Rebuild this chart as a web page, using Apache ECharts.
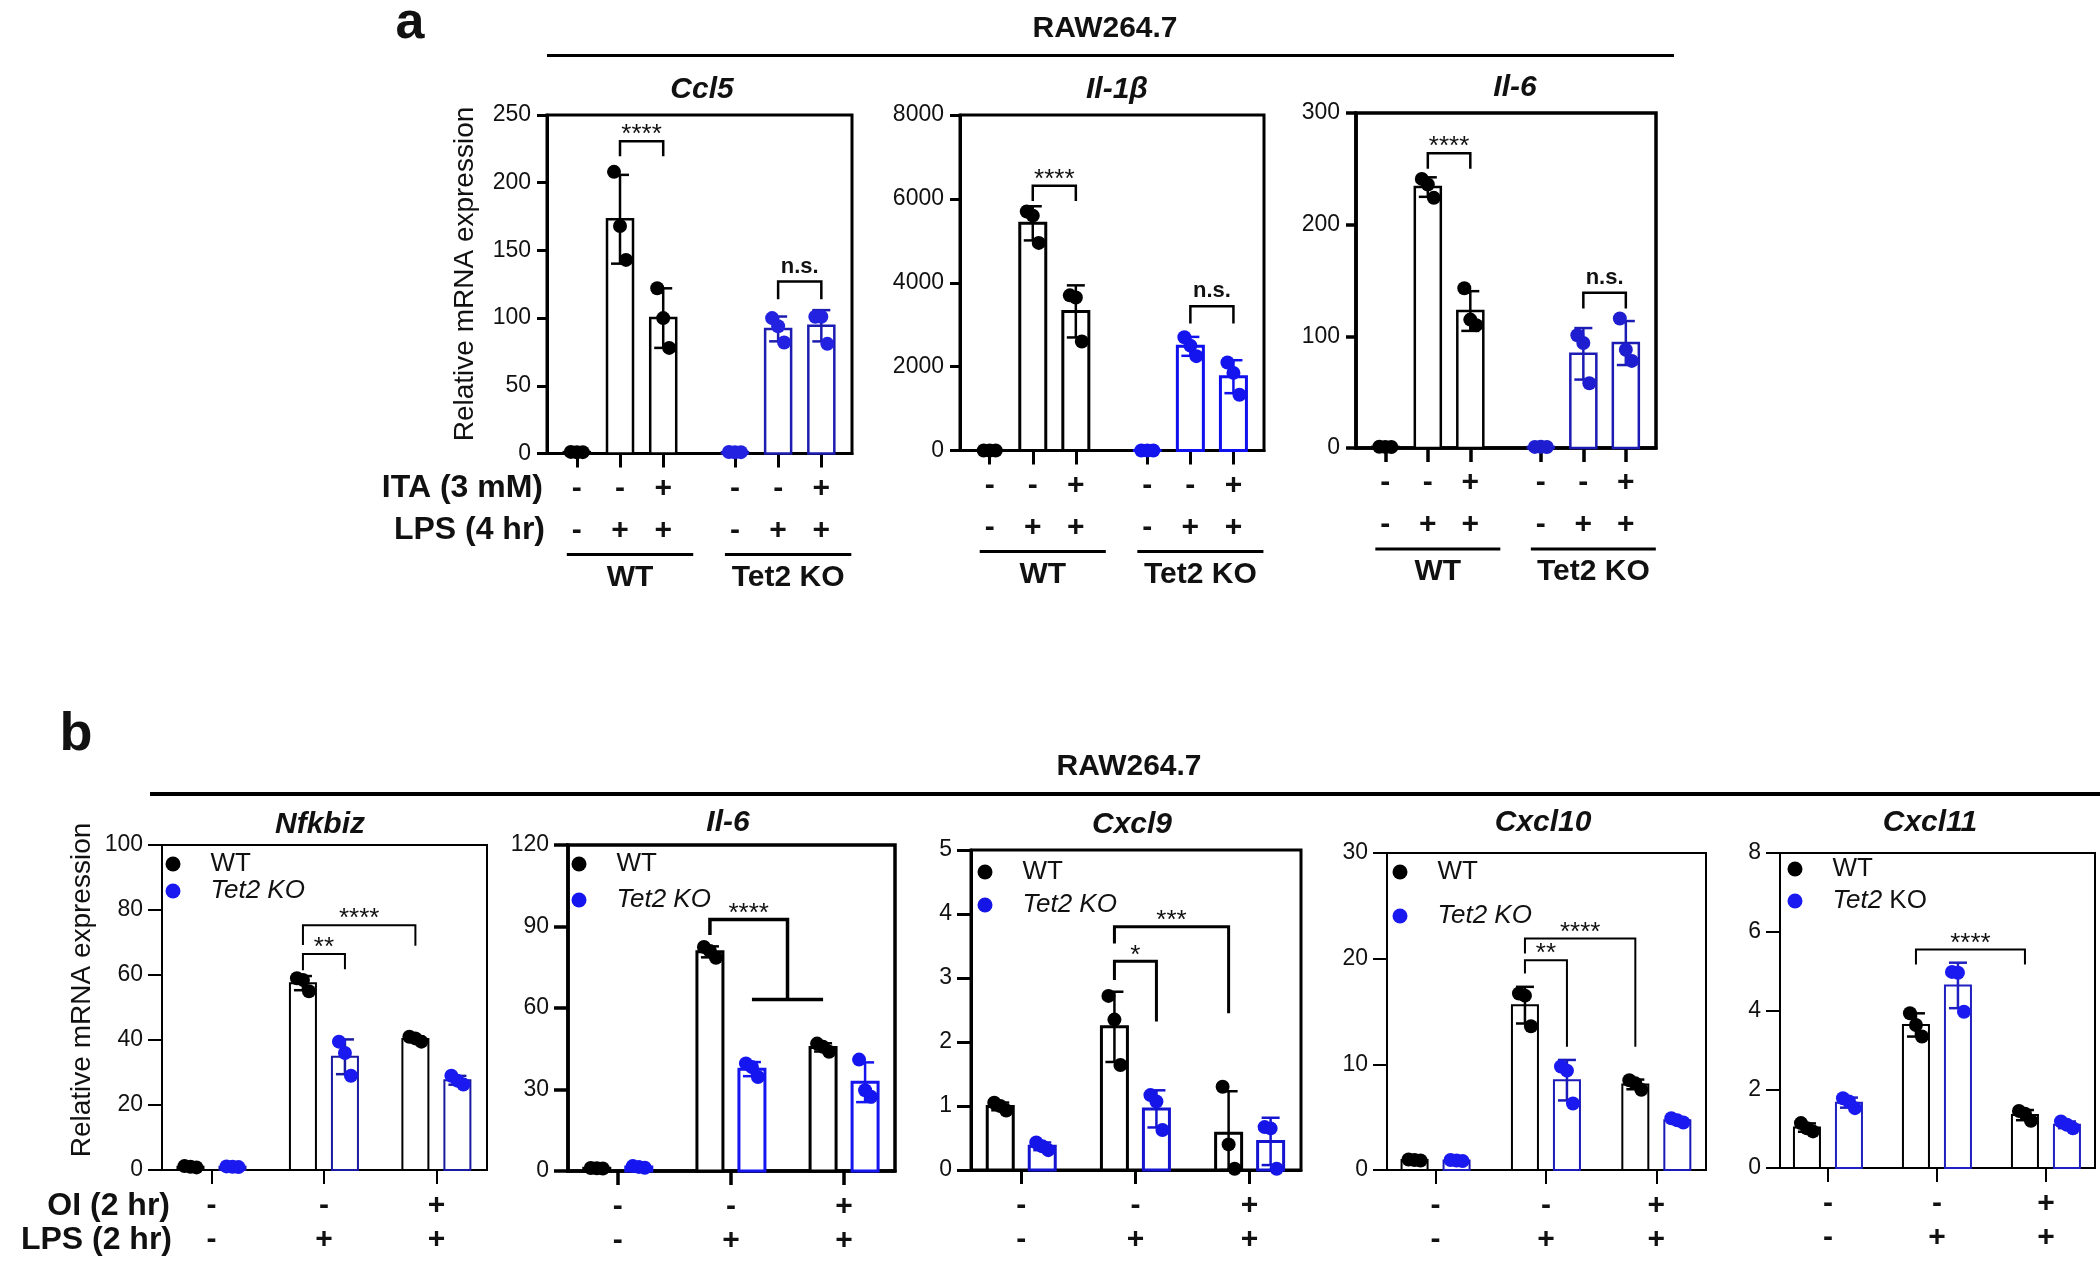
<!DOCTYPE html>
<html><head><meta charset="utf-8">
<script src="https://cdn.jsdelivr.net/npm/echarts@6/dist/echarts.min.js"></script>
<style>html,body{margin:0;padding:0;background:#fff}#c{width:2100px;height:1280px}</style>
</head><body><div id="c"></div>
<script>
// ================= DATA =================
// Panel a (RAW264.7). Order: WT ctrl, WT LPS, WT ITA+LPS, KO ctrl, KO LPS, KO ITA+LPS
const aGenotype = ['WT', 'WT', 'WT', 'Tet2 KO', 'Tet2 KO', 'Tet2 KO'];
const aRowITA = ['-', '-', '+', '-', '-', '+'];
const aRowLPS = ['-', '+', '+', '-', '+', '+'];
const ccl5Values = [[1.2, 0.9, 1.0], [208, 168, 143], [122, 100, 78], [1.1, 0.9, 1.0], [100, 94, 82], [101, 101, 81]];
const il1bValues = [[1.2, 0.9, 1.0], [5700, 5600, 4950], [3700, 3650, 2600], [1.1, 1.0, 0.9], [2700, 2500, 2250], [2100, 1850, 1330]];
const il6aValues = [[1.1, 1.0, 0.9], [241, 236, 224], [143, 115, 110], [1.0, 1.1, 0.9], [101, 94, 58], [116, 88, 78]];
const ccl5Ticks = [0, 50, 100, 150, 200, 250];
const il1bTicks = [0, 2000, 4000, 6000, 8000];
const il6aTicks = [0, 100, 200, 300];
// significance: [leftBar, rightBar, bracketY, leftLegEnd, rightLegEnd, label, (T-bracket from, to)]
const ccl5Sig = [[1, 2, 230.6, 219.6, 219.6, '****'], [4, 5, 127, 114, 114, 'n.s.']];
const il1bSig = [[1, 2, 6314, 5950, 5950, '****'], [4, 5, 3440, 3030, 3030, 'n.s.']];
const il6aSig = [[1, 2, 264, 250, 250, '****'], [4, 5, 139, 125, 125, 'n.s.']];

// Panel b (RAW264.7). Groups: ctrl, LPS, OI+LPS ; bar index = group*2 + (KO ? 1 : 0)
const bRowOI = ['-', '-', '+'];
const bRowLPS = ['-', '+', '+'];
const nfkbizWT = [[1.2, 1.0, 0.8], [59, 58.5, 55], [41, 40.5, 39.5]];
const nfkbizKO = [[1.1, 1.0, 0.9], [39.5, 36, 29], [29, 27.5, 26.3]];
const il6bWT = [[1.1, 1.0, 0.9], [82.5, 81, 78.5], [46.9, 45.7, 43.9]];
const il6bKO = [[1.8, 1.5, 1.2], [39.6, 38.3, 34.6], [41, 29.7, 27.3]];
const cxcl9WT = [[1.05, 1.0, 0.93], [2.72, 2.35, 1.64], [1.30, 0.40, 0.02]];
const cxcl9KO = [[0.43, 0.37, 0.31], [1.17, 1.07, 0.625], [0.67, 0.65, 0.02]];
const cxcl10WT = [[1.0, 0.95, 0.9], [16.7, 16.5, 13.6], [8.5, 8.2, 7.6]];
const cxcl10KO = [[0.95, 0.9, 0.85], [9.8, 9.4, 6.3], [4.9, 4.7, 4.5]];
const cxcl11WT = [[1.14, 1.01, 0.93], [3.93, 3.63, 3.34], [1.45, 1.38, 1.2]];
const cxcl11KO = [[1.77, 1.69, 1.52], [4.98, 4.96, 3.97], [1.18, 1.1, 1.01]];
const nfkbizTicks = [0, 20, 40, 60, 80, 100];
const il6bTicks = [0, 30, 60, 90, 120];
const cxcl9Ticks = [0, 1, 2, 3, 4, 5];
const cxcl10Ticks = [0, 10, 20, 30];
const cxcl11Ticks = [0, 2, 4, 6, 8];
const nfkbizSig = [[2, 3, 66.5, 61.5, 61.8, '**'], [2, 4, 75.3, 69.2, 69, '****']];
const il6bSig = [[2, null, 92.6, 86.9, 63.1, '****', 3, 4]];
const cxcl9Sig = [[2, 3, 3.26, 2.97, 2.32, '*'], [2, 4, 3.80, 3.54, 2.45, '***']];
const cxcl10Sig = [[2, 3, 19.85, 18.6, 11.66, '**'], [2, 4, 21.9, 20.5, 11.66, '****']];
const cxcl11Sig = [[2, 4, 5.55, 5.17, 5.17, '****']];

// ================= LAYOUT / STYLE =================
const FONT = '"Liberation Sans", Arial, sans-serif';
const interleave = (wt, ko) => wt.flatMap((w, g) => [w, ko[g]]);

const panels = [
  {kind: 'a', title: 'Ccl5', vals: ccl5Values, ticks: ccl5Ticks, sig: ccl5Sig,
   grid: {left: 547, top: 115, width: 305, height: 338.5}, titleX: 702, titleY: 90,
   koBar: '#1c1cb0', koDot: '#2222e0', boxLW: 3, barLW: 2.5, sigLW: 2.5},
  {kind: 'a', title: 'Il-1β', vals: il1bValues, ticks: il1bTicks, sig: il1bSig,
   grid: {left: 960, top: 115, width: 304, height: 335.5}, titleX: 1117, titleY: 90,
   koBar: '#1010ee', koDot: '#1414ee', boxLW: 3, barLW: 3, sigLW: 2.5},
  {kind: 'a', title: 'Il-6', vals: il6aValues, ticks: il6aTicks, sig: il6aSig,
   grid: {left: 1356, top: 113, width: 300, height: 335}, titleX: 1515, titleY: 88,
   koBar: '#1c1cb4', koDot: '#1e1ed0', boxLW: 3.5, barLW: 2.5, sigLW: 2.5},
  {kind: 'b', title: 'Nfkbiz', vals: interleave(nfkbizWT, nfkbizKO), ticks: nfkbizTicks, sig: nfkbizSig,
   grid: {left: 162, top: 845, width: 325, height: 325}, titleX: 320, titleY: 825,
   koBar: '#1a1aa0', koDot: '#1a1af0', boxLW: 2, barLW: 2, sigLW: 2, legend: {x: 173, y1: 863, y2: 888}},
  {kind: 'b', title: 'Il-6', vals: interleave(il6bWT, il6bKO), ticks: il6bTicks, sig: il6bSig,
   grid: {left: 568, top: 845, width: 327, height: 326}, titleX: 728, titleY: 823,
   koBar: '#1515f0', koDot: '#1515f0', boxLW: 3.5, barLW: 3, sigLW: 3.5, legend: {x: 579, y1: 863, y2: 897}},
  {kind: 'b', title: 'Cxcl9', vals: interleave(cxcl9WT, cxcl9KO), ticks: cxcl9Ticks, sig: cxcl9Sig,
   grid: {left: 971, top: 850, width: 330, height: 320}, titleX: 1132, titleY: 825,
   koBar: '#1515d0', koDot: '#1515e8', boxLW: 3, barLW: 3, sigLW: 3, legend: {x: 985, y1: 871, y2: 902}},
  {kind: 'b', title: 'Cxcl10', vals: interleave(cxcl10WT, cxcl10KO), ticks: cxcl10Ticks, sig: cxcl10Sig,
   grid: {left: 1387, top: 853, width: 319, height: 317}, titleX: 1543, titleY: 823,
   koBar: '#1a1ab8', koDot: '#1a1af0', boxLW: 2, barLW: 2, sigLW: 2, legend: {x: 1400, y1: 871, y2: 913}},
  {kind: 'b', title: 'Cxcl11', vals: interleave(cxcl11WT, cxcl11KO), ticks: cxcl11Ticks, sig: cxcl11Sig,
   grid: {left: 1780, top: 853, width: 315, height: 315}, titleX: 1930, titleY: 823,
   koBar: '#2020c0', koDot: '#1a1af0', boxLW: 2, barLW: 2, sigLW: 2, legend: {x: 1795, y1: 868, y2: 898}, mixedKO: true}
];

const GAP_A = 0.66;
panels.forEach(P => {
  if (P.kind === 'a') {
    P.xVal = i => i + (i >= 3 ? GAP_A : 0);
    P.off = i => 0;
    P.isKO = i => i >= 3;
    P.xmin = -0.69; P.xmax = 6.37;
    P.tickPos = [0, 1, 2, 3, 4, 5].map(P.xVal);
    P.rows = [aRowITA, aRowLPS];
  } else {
    P.xVal = i => Math.floor(i / 2);
    P.off = i => (i % 2 ? 21 : -21);
    P.isKO = i => i % 2 === 1;
    P.xmin = -0.44; P.xmax = 2.45;
    P.tickPos = [0, 1, 2];
    P.rows = [bRowOI, bRowLPS];
  }
});

const mean = a => a.reduce((s, v) => s + v, 0) / a.length;
const sdev = a => { const m = mean(a); return Math.sqrt(a.reduce((s, v) => s + (v - m) * (v - m), 0) / (a.length - 1)); };
const JIT = [-6, 0, 6];
const BAR_W = 26, CAP_W = 18;

function barRender(P) {
  return function (params, api) {
    const x = api.value(0), m = api.value(1), sd = api.value(2), idx = api.value(3);
    const p0 = api.coord([x, 0]), p1 = api.coord([x, m]);
    const cx = p0[0] + P.off(idx);
    const hi = api.coord([x, m + sd])[1], lo = api.coord([x, Math.max(0, m - sd)])[1];
    const col = P.isKO(idx) ? P.koBar : '#000';
    const es = {stroke: col, lineWidth: 2.5};
    return {type: 'group', children: [
      {type: 'rect', shape: {x: cx - BAR_W / 2, y: p1[1], width: BAR_W, height: p0[1] - p1[1]},
       style: {fill: '#fff', stroke: col, lineWidth: P.barLW}},
      {type: 'line', shape: {x1: cx, y1: hi, x2: cx, y2: lo}, style: es},
      {type: 'line', shape: {x1: cx - CAP_W / 2, y1: hi, x2: cx + CAP_W / 2, y2: hi}, style: es},
      {type: 'line', shape: {x1: cx - CAP_W / 2, y1: lo, x2: cx + CAP_W / 2, y2: lo}, style: es}
    ]};
  };
}

function sigRender(P) {
  return function (params, api) {
    const s = P.sig[params.dataIndex];
    const px = i => api.coord([P.xVal(i), 0])[0] + P.off(i);
    const py = v => api.coord([0, v])[1];
    const L = px(s[0]), yT = py(s[2]), yL = py(s[3]), yR = py(s[4]);
    const st = {stroke: '#000', lineWidth: P.sigLW, fill: 'none'};
    const ch = [];
    let tx;
    if (s[6] != null) {
      const A = px(s[6]), B = px(s[7]), M = (A + B) / 2;
      ch.push({type: 'polyline', shape: {points: [[L, yL], [L, yT], [M, yT], [M, yR]]}, style: st});
      ch.push({type: 'line', shape: {x1: A, y1: yR, x2: B, y2: yR}, style: st});
      tx = (L + M) / 2;
    } else {
      const R = px(s[1]);
      ch.push({type: 'polyline', shape: {points: [[L, yL], [L, yT], [R, yT], [R, yR]]}, style: st});
      tx = (L + R) / 2;
    }
    const ns = s[5] === 'n.s.';
    ch.push({type: 'text', x: tx, y: ns ? yT - 4 : yT + 7,
      style: {text: s[5], font: (ns ? 'bold 22px ' : '26px ') + FONT, fill: '#111', align: 'center', verticalAlign: 'bottom'}});
    return {type: 'group', children: ch};
  };
}

const option = {
  backgroundColor: '#fff', animation: false,
  grid: [], xAxis: [], yAxis: [], series: [], legend: [], graphic: []
};

const G = option.graphic;
const txt = (text, x, y, font, align, extra) => G.push(Object.assign({type: 'text', x, y, silent: true,
  style: {text, font, fill: '#111', align: align || 'center', verticalAlign: 'middle'}}, extra || {}));
const line = (x1, y1, x2, y2, w) => G.push({type: 'line', silent: true, shape: {x1, y1, x2, y2}, style: {stroke: '#000', lineWidth: w}});

panels.forEach((P, gi) => {
  option.grid.push(Object.assign({show: true, borderColor: '#000', borderWidth: P.boxLW, backgroundColor: 'transparent',
    containLabel: false, outerBoundsMode: 'none'}, P.grid));
  const isA = P.kind === 'a';
  option.xAxis.push({
    gridIndex: gi, type: 'value', min: P.xmin, max: P.xmax, splitLine: {show: false},
    axisLine: {show: true, onZero: false, lineStyle: {color: '#000', width: P.boxLW}},
    axisTick: {show: true, customValues: P.tickPos, length: 14, lineStyle: {color: '#000', width: P.boxLW}},
    axisLabel: {show: true, customValues: P.tickPos, margin: isA ? 14 : 19,
      fontSize: 30, fontWeight: 'bold', fontFamily: FONT, color: '#111', lineHeight: isA ? 42 : 34,
      formatter: v => { const i = P.tickPos.findIndex(p => Math.abs(p - v) < 0.01); return i < 0 ? '' : P.rows[0][i] + '\n' + P.rows[1][i]; }}
  });
  option.yAxis.push({
    gridIndex: gi, type: 'value', min: P.ticks[0], max: P.ticks[P.ticks.length - 1], interval: P.ticks[1] - P.ticks[0],
    splitLine: {show: false},
    axisLine: {show: true, onZero: false, lineStyle: {color: '#000', width: P.boxLW}},
    axisTick: {show: true, length: isA ? 10 : 14, lineStyle: {color: '#000', width: P.boxLW}},
    axisLabel: {fontSize: 23, fontFamily: FONT, color: '#111', margin: isA ? 16 : 19, formatter: v => String(v)}
  });
  // bars + error bars
  option.series.push({
    type: 'custom', name: 'bars' + gi, xAxisIndex: gi, yAxisIndex: gi, z: 2, clip: false,
    dimensions: ['x', 'm', 'sd', 'idx'], encode: {x: 0, y: 1},
    data: P.vals.map((v, i) => [P.xVal(i), mean(v), sdev(v), i]),
    renderItem: barRender(P)
  });
  // replicate dots
  ['WT', 'Tet2 KO'].forEach((nm, k) => {
    const items = [];
    P.vals.forEach((v, i) => {
      if ((P.isKO(i) ? 1 : 0) !== k) return;
      v.forEach((val, j) => items.push({value: [P.xVal(i), val], symbolOffset: [P.off(i) + JIT[j], 0]}));
    });
    option.series.push({
      type: 'scatter', name: nm, xAxisIndex: gi, yAxisIndex: gi, z: 3, symbol: 'circle', symbolSize: 14,
      itemStyle: {color: k ? P.koDot : '#000', opacity: 1}, data: items
    });
  });
  // significance brackets
  option.series.push({
    type: 'custom', name: 'sig' + gi, xAxisIndex: gi, yAxisIndex: gi, z: 4, clip: false,
    data: P.sig.map(s => [P.xVal(s[0]), s[2]]), renderItem: sigRender(P)
  });
  // title
  txt(P.title, P.titleX, P.titleY, 'italic bold 30px ' + FONT);
  // legend (panel b)
  if (P.legend) {
    const L = P.legend;
    option.legend.push({
      orient: 'vertical', left: L.x - 7.5, top: L.y1 - 12, padding: 0, itemGap: (L.y2 - L.y1) - 24,
      itemWidth: 15, itemHeight: 15, icon: 'circle', selectedMode: false,
      textStyle: {fontSize: 26, fontFamily: FONT, color: '#111', lineHeight: 24, padding: [0, 0, 0, 25],
        rich: {i: {fontSize: 26, fontFamily: FONT, fontStyle: 'italic', color: '#111'}}},
      formatter: P.mixedKO ? (n => n === 'Tet2 KO' ? '{i|Tet2} KO' : n) : (n => n),
      data: [
        {name: 'WT', itemStyle: {color: '#000'}},
        {name: 'Tet2 KO', itemStyle: {color: P.koDot}, textStyle: P.mixedKO ? {} : {fontStyle: 'italic'}}
      ]
    });
  }
  // group underlines for panel a
  if (isA) {
    const toPx = v => P.grid.left + (v - P.xmin) / (P.xmax - P.xmin) * P.grid.width;
    const bottom = P.grid.top + P.grid.height;
    [[0, 2], [3, 5]].forEach(([f, t]) => {
      const x1 = toPx(P.xVal(f)) - 10, x2 = toPx(P.xVal(t)) + 30;
      line(x1, bottom + 101, x2, bottom + 101, 3);
      txt(aGenotype[f], (x1 + x2) / 2, bottom + 124, 'bold 30px ' + FONT);
    });
  }
});

// figure-level decorations
txt('a', 410, 24, 'bold 52px ' + FONT);
txt('RAW264.7', 1105, 29, 'bold 30px ' + FONT);
line(547, 55.5, 1674, 55.5, 3);
txt('b', 76, 735, 'bold 54px ' + FONT);
txt('RAW264.7', 1129, 767, 'bold 30px ' + FONT);
line(150, 794, 2100, 794, 4);
txt('Relative mRNA expression', 465, 274, '28px ' + FONT, 'center', {rotation: Math.PI / 2});
txt('Relative mRNA expression', 82, 990, '28px ' + FONT, 'center', {rotation: Math.PI / 2});
txt('ITA (3 mM)', 543, 488, 'bold 32px ' + FONT, 'right');
txt('LPS (4 hr)', 545, 530, 'bold 32px ' + FONT, 'right');
txt('OI (2 hr)', 170, 1206, 'bold 32px ' + FONT, 'right');
txt('LPS (2 hr)', 172, 1240, 'bold 32px ' + FONT, 'right');

const chart = echarts.init(document.getElementById('c'), null, {renderer: 'canvas', width: 2100, height: 1280});
chart.setOption(option);
</script></body></html>
